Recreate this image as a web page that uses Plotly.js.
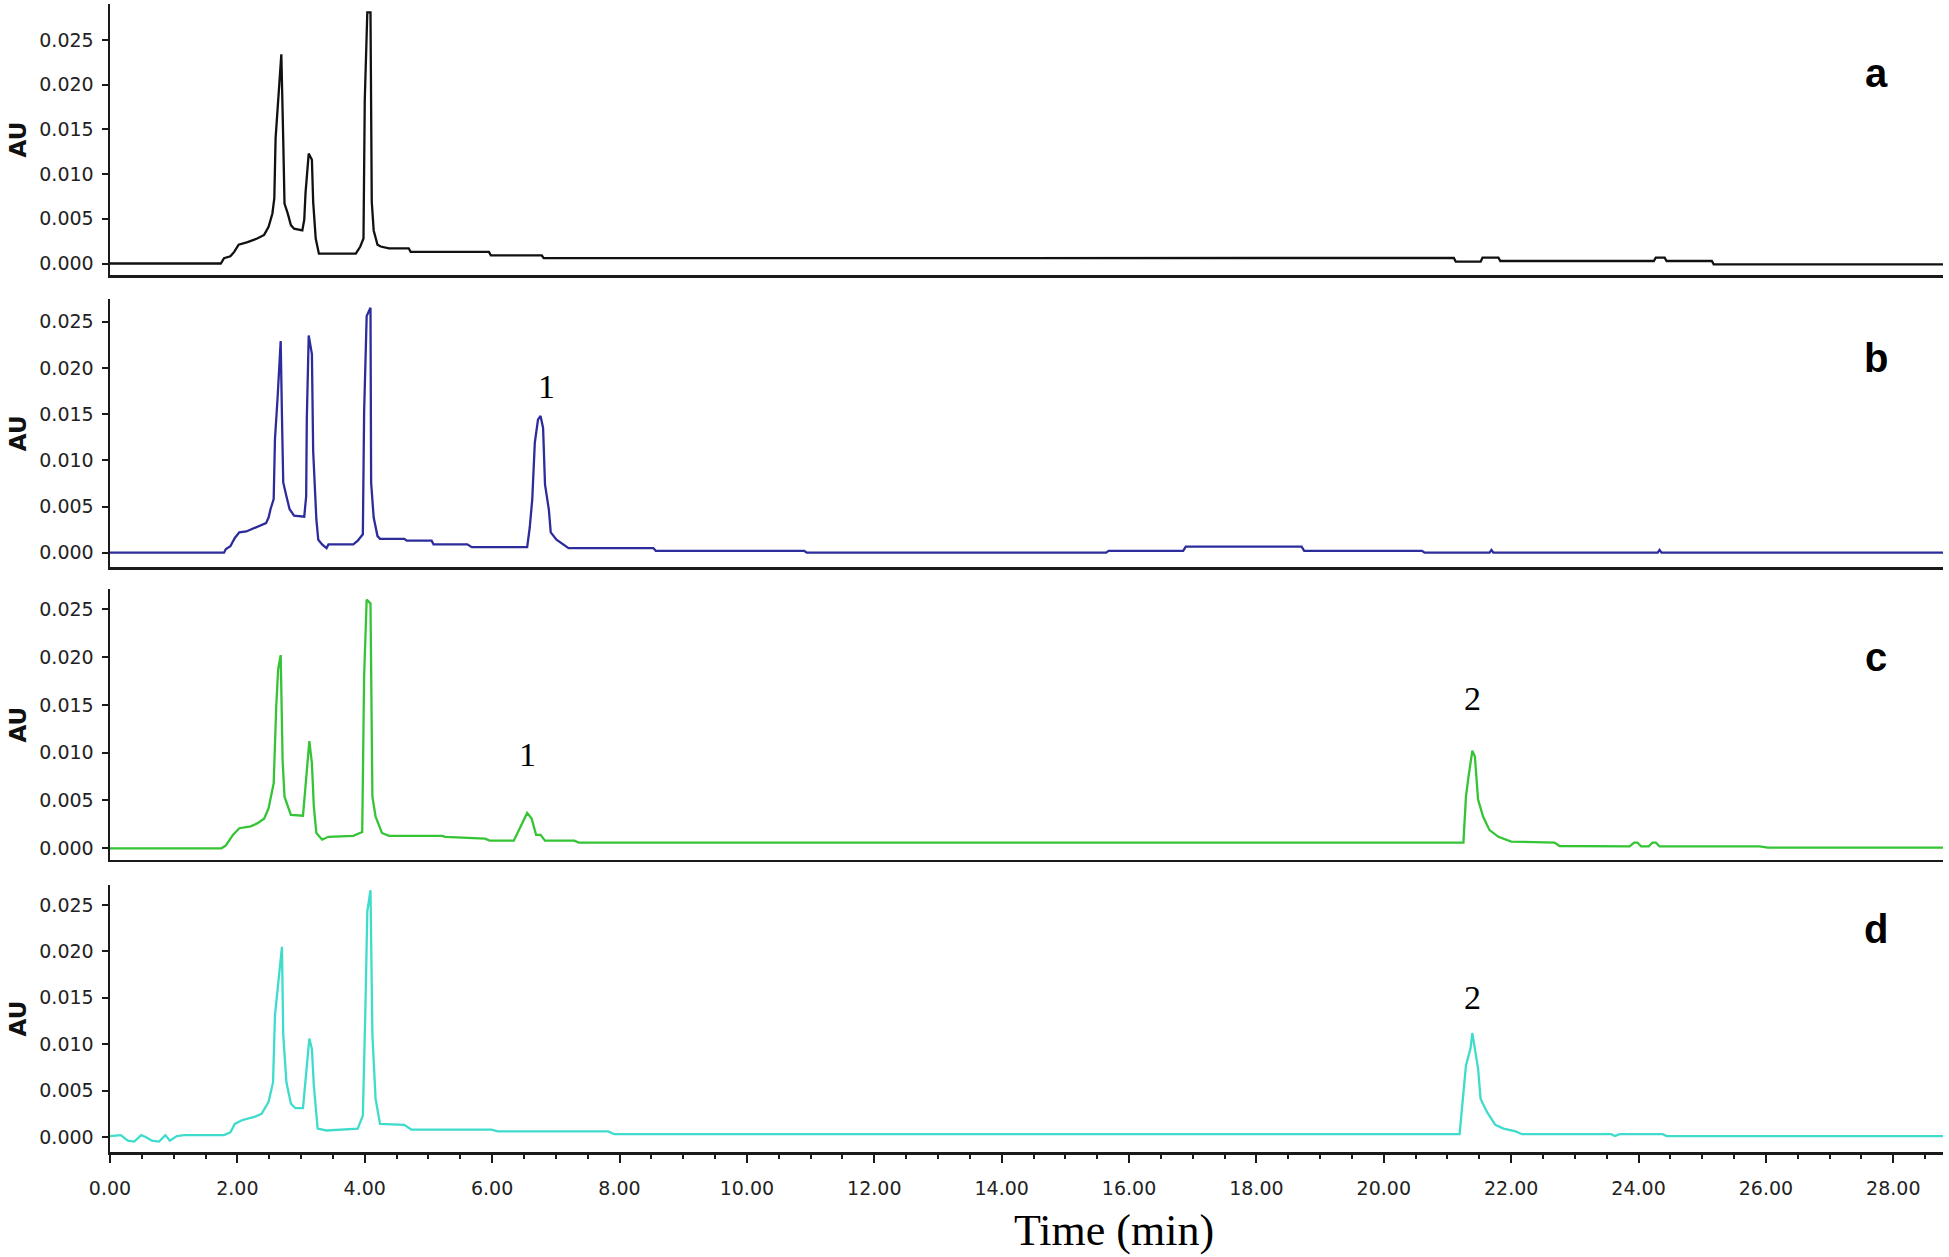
<!DOCTYPE html>
<html>
<head>
<meta charset="utf-8">
<script src="https://cdn.plot.ly/plotly-3.0.1.min.js"></script>
<style>
html,body{margin:0;padding:0;background:#fff;}
#chart{width:1949px;height:1257px;}
</style>
</head>
<body>
<div id="chart"></div>
<script>
// ---- Data (retention time in min, absorbance in AU) ----
const timeA = [0, 1.74, 1.79, 1.89, 1.95, 2.02, 2.16, 2.31, 2.42, 2.49, 2.55, 2.58, 2.60, 2.64, 2.69, 2.72, 2.74, 2.79, 2.84, 2.89, 3.02, 3.05, 3.07, 3.12, 3.17, 3.19, 3.23, 3.28, 3.86, 3.93, 3.98, 4.00, 4.04, 4.09, 4.11, 4.14, 4.20, 4.25, 4.38, 4.69, 4.72, 5.95, 5.98, 6.78, 6.81, 21.10, 21.13, 21.52, 21.55, 21.80, 21.83, 24.24, 24.27, 24.41, 24.44, 25.15, 25.18, 28.78];
const auA = [0, 0, 0.0006, 0.0008, 0.0013, 0.0021, 0.0024, 0.0028, 0.0032, 0.0041, 0.0056, 0.0073, 0.014, 0.0182, 0.0234, 0.0138, 0.0067, 0.0056, 0.0043, 0.0039, 0.0037, 0.0049, 0.0079, 0.0123, 0.0116, 0.0069, 0.0028, 0.0011, 0.0011, 0.0019, 0.0028, 0.0182, 0.0281, 0.0281, 0.0069, 0.0037, 0.0021, 0.0019, 0.0017, 0.0017, 0.0013, 0.0013, 0.0009, 0.0009, 0.0006, 0.00062, 0.0002, 0.0002, 0.00065, 0.00065, 0.00028, 0.00028, 0.00065, 0.00065, 0.00028, 0.00028, -0.0001, -0.0001];

const timeB = [0, 1.79, 1.82, 1.89, 1.96, 2.03, 2.14, 2.35, 2.45, 2.49, 2.52, 2.57, 2.59, 2.63, 2.68, 2.70, 2.72, 2.77, 2.82, 2.89, 3.05, 3.08, 3.09, 3.12, 3.17, 3.19, 3.24, 3.27, 3.33, 3.40, 3.43, 3.82, 3.89, 3.97, 3.99, 4.03, 4.09, 4.10, 4.14, 4.20, 4.24, 4.62, 4.66, 5.05, 5.08, 5.61, 5.68, 6.55, 6.59, 6.63, 6.67, 6.72, 6.76, 6.80, 6.83, 6.89, 6.92, 7.01, 7.11, 7.20, 8.53, 8.57, 10.90, 10.94, 15.64, 15.68, 16.85, 16.89, 18.71, 18.75, 20.60, 20.64, 21.66, 21.69, 21.72, 24.30, 24.33, 24.36, 28.78];
const auB = [0, 0, 0.0004, 0.0007, 0.0016, 0.0022, 0.0023, 0.0029, 0.0032, 0.0038, 0.0047, 0.0058, 0.0123, 0.0166, 0.0229, 0.0148, 0.0076, 0.0061, 0.0047, 0.004, 0.0039, 0.0061, 0.0144, 0.0235, 0.0215, 0.011, 0.0036, 0.0014, 0.0009, 0.0005, 0.0009, 0.0009, 0.0013, 0.002, 0.0152, 0.0256, 0.0265, 0.0076, 0.0038, 0.0018, 0.0015, 0.0015, 0.0013, 0.0013, 0.0009, 0.0009, 0.0006, 0.0006, 0.0027, 0.0058, 0.0119, 0.0144, 0.0148, 0.0135, 0.0074, 0.0047, 0.0022, 0.0014, 0.0009, 0.0005, 0.0005, 0.0002, 0.0002, 0, 0, 0.0002, 0.0002, 0.00065, 0.00065, 0.0002, 0.0002, 0, 0, 0.0003, 0, 0, 0.0003, 0, 0];

const timeC = [0, 1.75, 1.82, 1.93, 2.03, 2.21, 2.31, 2.42, 2.49, 2.57, 2.61, 2.64, 2.68, 2.71, 2.74, 2.84, 3.03, 3.07, 3.10, 3.13, 3.17, 3.20, 3.24, 3.33, 3.43, 3.82, 3.96, 3.99, 4.03, 4.09, 4.12, 4.17, 4.27, 4.38, 5.22, 5.26, 5.89, 5.96, 6.34, 6.44, 6.55, 6.62, 6.69, 6.76, 6.83, 7.29, 7.36, 21.25, 21.29, 21.33, 21.39, 21.43, 21.48, 21.56, 21.66, 21.80, 22.00, 22.68, 22.76, 23.86, 23.93, 23.98, 24.04, 24.16, 24.22, 24.27, 24.33, 25.90, 26.03, 28.78];
const auC = [0, 0, 0.0003, 0.0014, 0.0021, 0.0023, 0.0026, 0.0031, 0.0042, 0.0068, 0.0148, 0.0187, 0.0202, 0.0092, 0.0054, 0.0035, 0.0034, 0.0065, 0.0089, 0.0112, 0.0089, 0.0044, 0.0016, 0.0009, 0.0012, 0.0013, 0.0017, 0.018, 0.026, 0.0256, 0.0054, 0.0033, 0.0016, 0.0013, 0.0013, 0.0012, 0.001, 0.0008, 0.0008, 0.0021, 0.0037, 0.0031, 0.0014, 0.0014, 0.0008, 0.0008, 0.0006, 0.0006, 0.0054, 0.0075, 0.0102, 0.0096, 0.0051, 0.0033, 0.0019, 0.0012, 0.0007, 0.0006, 0.00024, 0.0002, 0.0006, 0.0006, 0.0002, 0.0002, 0.0006, 0.0006, 0.0002, 0.0002, 0.00007, 0.00007];

const timeD = [0, 0.17, 0.28, 0.38, 0.49, 0.56, 0.66, 0.77, 0.87, 0.94, 1.05, 1.16, 1.79, 1.89, 1.96, 2.07, 2.28, 2.38, 2.49, 2.56, 2.59, 2.64, 2.70, 2.72, 2.77, 2.84, 2.91, 3.03, 3.08, 3.13, 3.17, 3.20, 3.26, 3.40, 3.89, 3.97, 4.01, 4.04, 4.09, 4.12, 4.17, 4.24, 4.62, 4.73, 5.99, 6.09, 7.82, 7.92, 21.19, 21.24, 21.29, 21.36, 21.39, 21.43, 21.48, 21.52, 21.62, 21.75, 21.88, 22.07, 22.17, 23.57, 23.63, 23.70, 24.38, 24.44, 28.78];
const auD = [0.0001, 0.0002, -0.0004, -0.0005, 0.0002, 0, -0.0004, -0.0005, 0.0002, -0.0004, 0.0001, 0.0002, 0.0002, 0.0005, 0.0014, 0.0018, 0.0022, 0.0025, 0.0038, 0.0059, 0.0131, 0.0167, 0.0205, 0.011, 0.0059, 0.0036, 0.0031, 0.0031, 0.0067, 0.0106, 0.0095, 0.0056, 0.0009, 0.0007, 0.0009, 0.0023, 0.0138, 0.0243, 0.0266, 0.011, 0.0041, 0.0014, 0.0013, 0.0008, 0.0008, 0.0006, 0.0006, 0.0003, 0.0003, 0.0038, 0.0077, 0.0095, 0.0112, 0.0095, 0.0074, 0.0041, 0.0027, 0.0013, 0.0009, 0.0006, 0.0003, 0.0003, 0.0001, 0.0003, 0.0003, 0.0001, 0.0001];

const panelLetters = ['a', 'b', 'c', 'd'];
const yTickValues = [0, 0.005, 0.010, 0.015, 0.020, 0.025];
const xTitle = 'Time (min)';
const yTitle = 'AU';

// ---- Styles ----
const colors = ['#111111', '#2c2c9c', '#35c435', '#40dccb'];
const axisColor = '#1a1a1a';
const sans = 'Liberation Sans, Arial, sans-serif';
const tickSans = 'DejaVu Sans, Verdana, sans-serif';
const serif = 'Liberation Serif, Times New Roman, serif';

const traces = [
  {x: timeA, y: auA, xaxis: 'x', yaxis: 'y'},
  {x: timeB, y: auB, xaxis: 'x2', yaxis: 'y2'},
  {x: timeC, y: auC, xaxis: 'x3', yaxis: 'y3'},
  {x: timeD, y: auD, xaxis: 'x4', yaxis: 'y4'}
].map((t, i) => Object.assign(t, {
  type: 'scatter', mode: 'lines', name: panelLetters[i],
  line: {color: colors[i], width: 2.3}, hoverinfo: 'x+y'
}));

const xBase = {
  range: [0, 28.78], showline: true, linecolor: axisColor, linewidth: 2.5,
  showgrid: false, zeroline: false, ticks: '', showticklabels: false, domain: [0, 1]
};
const yDomains = [[0.7639, 1.0], [0.5093, 0.7428], [0.2544, 0.4902], [0, 0.2326]];
const yRanges = [[-0.00129, 0.02903], [-0.00158, 0.02742], [-0.00122, 0.02709], [-0.00162, 0.02716]];

function yAxis(i) {
  return {
    domain: yDomains[i], range: yRanges[i], anchor: i === 0 ? 'x' : 'x' + (i + 1),
    showline: true, linecolor: axisColor, linewidth: 2.5, showgrid: false, zeroline: false,
    ticks: 'outside', ticklen: 6, tickwidth: 2, tickcolor: axisColor,
    tickvals: yTickValues, tickformat: '.3f', ticklabelstandoff: 4,
    tickfont: {family: tickSans, size: 19, color: '#222'},
    title: {text: '<b>' + yTitle + '</b>', font: {family: tickSans, size: 23, color: '#111'}, standoff: 6}
  };
}

const layout = {
  width: 1949, height: 1257,
  margin: {l: 110, r: 6, t: 4, b: 105},
  paper_bgcolor: '#ffffff', plot_bgcolor: '#ffffff',
  showlegend: false,
  xaxis: Object.assign({}, xBase, {anchor: 'y'}),
  xaxis2: Object.assign({}, xBase, {anchor: 'y2', matches: 'x'}),
  xaxis3: Object.assign({}, xBase, {anchor: 'y3', matches: 'x'}),
  xaxis4: Object.assign({}, xBase, {
    anchor: 'y4', matches: 'x', ticks: 'outside', ticklen: 8, tickwidth: 2, tickcolor: axisColor,
    showticklabels: true, tick0: 0, dtick: 2, tickformat: '.2f', ticklabelstandoff: 10,
    tickfont: {family: tickSans, size: 19, color: '#222'},
    minor: {dtick: 0.5, tick0: 0, ticks: 'outside', ticklen: 4, tickwidth: 2, tickcolor: axisColor}
  }),
  yaxis: yAxis(0), yaxis2: yAxis(1), yaxis3: yAxis(2), yaxis4: yAxis(3),
  annotations: [
    {text: '<b>a</b>', xref: 'paper', x: 0.9635, yref: 'y', y: 0.0213},
    {text: '<b>b</b>', xref: 'paper', x: 0.9635, yref: 'y2', y: 0.0211},
    {text: '<b>c</b>', xref: 'paper', x: 0.9635, yref: 'y3', y: 0.0200},
    {text: '<b>d</b>', xref: 'paper', x: 0.9635, yref: 'y4', y: 0.0224}
  ].map(a => Object.assign(a, {showarrow: false, xanchor: 'center', yanchor: 'middle',
      font: {family: sans, size: 40, color: '#000'}})).concat([
    {text: '1', xref: 'x2', x: 6.85, yref: 'y2', y: 0.0180},
    {text: '1', xref: 'x3', x: 6.55, yref: 'y3', y: 0.0098},
    {text: '2', xref: 'x3', x: 21.40, yref: 'y3', y: 0.0157},
    {text: '2', xref: 'x4', x: 21.39, yref: 'y4', y: 0.0150}
  ].map(a => Object.assign(a, {showarrow: false, xanchor: 'center', yanchor: 'middle',
      font: {family: serif, size: 34, color: '#000'}}))).concat([
    {text: xTitle, xref: 'paper', x: 0.5477, yref: 'paper', y: -0.0688, showarrow: false,
     xanchor: 'center', yanchor: 'middle', font: {family: serif, size: 44, color: '#000'}}
  ])
};

Plotly.newPlot('chart', traces, layout, {displayModeBar: false, staticPlot: true});
</script>
</body>
</html>
